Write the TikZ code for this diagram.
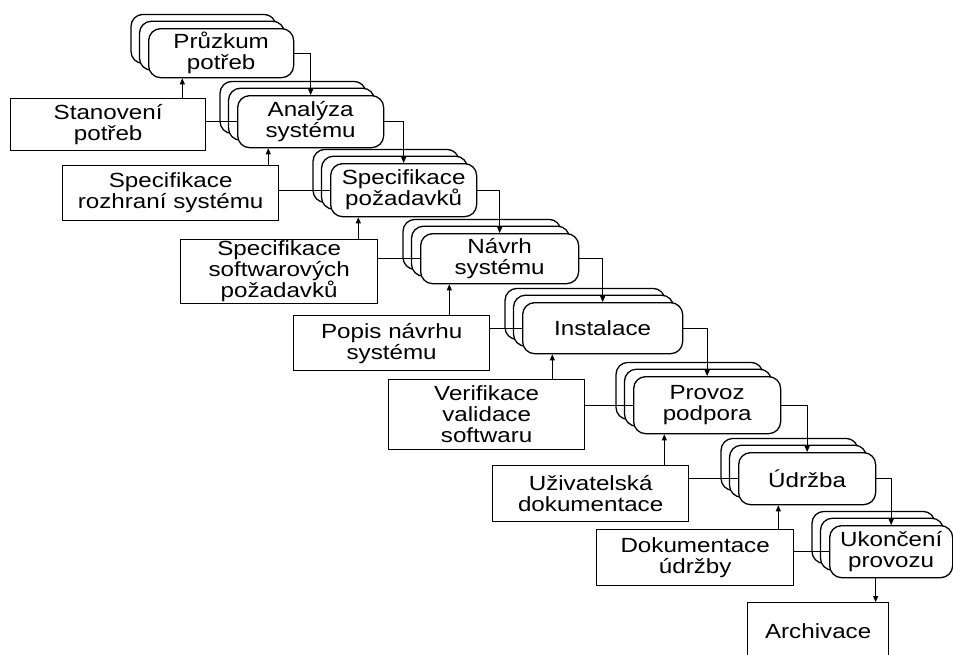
\documentclass[tikz,border=0pt]{standalone}
\usepackage{fontspec}
\setmainfont{Liberation Sans}[FakeStretch=1.18]
\usetikzlibrary{arrows.meta}

% a life-cycle phase: two offset outlines behind a rounded box
% #1 name, #2 left, #3 top, #4 width, #5 height, #6 text
\newcommand{\phasestack}[6]{%
  \draw[layer] ({#2-17},{#3-13.6}) rectangle ++(#4,#5);
  \draw[layer] ({#2-8.5},{#3-6.8}) rectangle ++(#4,#5);
  \node[phasebox, minimum width=#4pt, minimum height=#5pt] (#1) at (#2,#3) {#6};
}
% a document produced by a phase
\newcommand{\docbox}[6]{%
  \node[docstyle, minimum width=#4pt, minimum height=#5pt] (#1) at (#2,#3) {#6};
}

\begin{document}
\begin{tikzpicture}[x=1pt,y=-1pt,
  every node/.style={font=\fontsize{20.5}{21}\selectfont, align=center, inner sep=0pt},
  layer/.style={draw, line width=1.3pt, fill=white, rounded corners=12pt},
  phasebox/.style={layer, anchor=north west},
  docstyle/.style={draw, line width=1.3pt, fill=white, anchor=north west},
  link/.style={line width=0.8pt},
  arr/.style={link, -{Triangle[length=6pt,width=5pt]}}
]
\useasboundingbox (0,0) rectangle (953,654);

% phases
\phasestack{s1}{148}{28}{145}{49}{Průzkum\\potřeb}
\phasestack{s2}{237}{95}{146}{52}{Analýza\\systému}
\phasestack{s3}{330}{163}{146}{53}{Specifikace\\požadavků}
\phasestack{s4}{420}{233}{158}{50}{Návrh\\systému}
\phasestack{s5}{522}{302}{160}{51}{Instalace}
\phasestack{s6}{633}{376}{147}{57}{Provoz\\podpora}
\phasestack{s7}{738}{452}{137}{52}{Údržba}
\phasestack{s8}{829}{525}{123}{52}{Ukončení\\provozu}

% documents
\docbox{d1}{10}{98}{195}{52}{Stanovení\\potřeb}
\docbox{d2}{62}{165}{216}{55}{Specifikace\\rozhraní systému}
\docbox{d3}{180}{239}{197}{64}{Specifikace\\softwarových\\požadavků}
\docbox{d4}{293}{315}{196}{55}{Popis návrhu\\systému}
\docbox{d5}{388}{379}{196}{70}{Verifikace\\validace\\softwaru}
\docbox{d6}{492}{465}{196}{56}{Uživatelská\\dokumentace}
\docbox{d7}{596}{529}{197}{56}{Dokumentace\\údržby}
\docbox{d8}{747}{602}{141}{58}{Archivace}

% flow from phase to phase
\draw[arr] (s1.east) -| (s2.north);
\draw[arr] (s2.east) -| (s3.north);
\draw[arr] (s3.east) -| (s4.north);
\draw[arr] (s4.east) -| (s5.north);
\draw[arr] (s5.east) -| (s6.north);
\draw[arr] (s6.east) -| (s7.north);
\draw[arr] (s7.east) -| (s8.north);

% each document feeds the phase above it
\coordinate (u1) at ([xshift=-24pt]d1.north east);
\coordinate (u2) at ([xshift=-11pt]d2.north east);
\coordinate (u3) at ([xshift=-20pt]d3.north east);
\coordinate (u4) at ([xshift=-41pt]d4.north east);
\coordinate (u5) at ([xshift=-33pt]d5.north east);
\coordinate (u6) at ([xshift=-25pt]d6.north east);
\coordinate (u7) at ([xshift=-16pt]d7.north east);
\draw[arr] (u1) -- (u1 |- s1.south);
\draw[arr] (u2) -- (u2 |- s2.south);
\draw[arr] (u3) -- (u3 |- s3.south);
\draw[arr] (u4) -- (u4 |- s4.south);
\draw[arr] (u5) -- (u5 |- s5.south);
\draw[arr] (u6) -- (u6 |- s6.south);
\draw[arr] (u7) -- (u7 |- s7.south);

% and is produced by the phase to its right
\draw[link] (d1.east |- s2.west) -- (s2.west);
\draw[link] (d2.east |- s3.west) -- (s3.west);
\draw[link] (d3.east |- s4.west) -- (s4.west);
\draw[link] (d4.east |- s5.west) -- (s5.west);
\draw[link] (d5.east |- s6.west) -- (s6.west);
\draw[link] (d6.east |- s7.west) -- (s7.west);
\draw[link] (d7.east |- s8.west) -- (s8.west);

% final archiving
\coordinate (u8) at ([xshift=-15.5pt]s8.south);
\draw[arr] (u8) -- (u8 |- d8.north);
\end{tikzpicture}
\end{document}
